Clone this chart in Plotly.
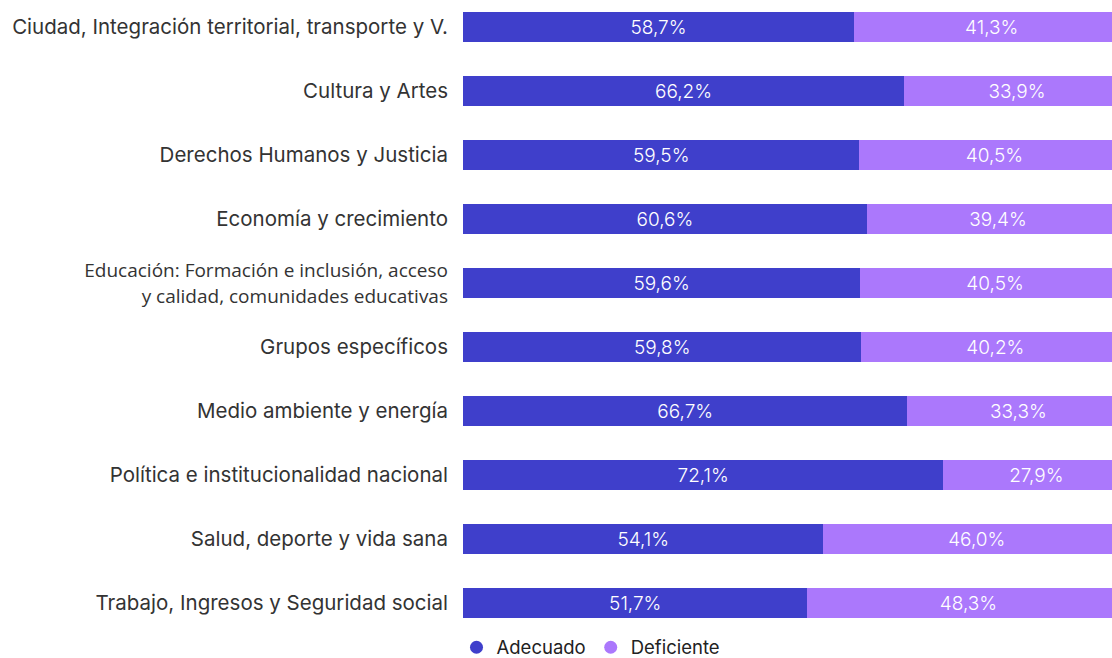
import plotly.graph_objects as go

categories = [
    "Ciudad, Integración territorial, transporte y V.",
    "Cultura y Artes",
    "Derechos Humanos y Justicia",
    "Economía y crecimiento",
    "Educación: Formación e inclusión, acceso<br>y calidad, comunidades educativas",
    "Grupos específicos",
    "Medio ambiente y energía",
    "Política e institucionalidad nacional",
    "Salud, deporte y vida sana",
    "Trabajo, Ingresos y Seguridad social",
]
adecuado = [58.7, 66.2, 59.5, 60.6, 59.6, 59.8, 66.7, 72.1, 54.1, 51.7]
deficiente = [41.3, 33.9, 40.5, 39.4, 40.5, 40.2, 33.3, 27.9, 46.0, 48.3]

series_names = ["Adecuado", "Deficiente"]
colors = ["#3f3fcb", "#ab78fc"]

OS = "<span style=\"font-family:'Open Sans';font-size:19px\">"
tick_text = [
    c if not c.startswith("Educación") else
    OS + c.replace("<br>", "</span><br>" + OS) + "</span>"
    for c in categories
]

FONT = "Inter, 'DejaVu Sans', sans-serif"

fig = go.Figure()
for name, vals, col in zip(series_names, [adecuado, deficiente], colors):
    fig.add_trace(go.Bar(
        y=categories, x=vals, orientation="h", name=name,
        marker=dict(color=col, line=dict(width=0)),
        texttemplate="%{x:.1f}%", textposition="inside",
        insidetextanchor="middle",
        textfont=dict(color="white", size=19, family=FONT, weight=300),
        showlegend=False, hoverinfo="skip",
    ))
# legend entries with circular markers
for name, col in zip(series_names, colors):
    fig.add_trace(go.Scatter(
        x=[None], y=[None], mode="markers", name=name,
        marker=dict(color=col, size=13, symbol="circle"),
        showlegend=True,
    ))

fig.update_layout(
    width=1112, height=658,
    barmode="stack", bargap=0.531,
    separators=",.",
    paper_bgcolor="white", plot_bgcolor="white",
    margin=dict(l=463, r=0, t=0, b=28, autoexpand=False),
    font=dict(family=FONT, size=20, color="#333333"),
    legend=dict(
        orientation="h", traceorder="normal",
        x=-0.01, xanchor="left", y=0.002, yanchor="top",
        font=dict(size=18.5, color="#222222", family=FONT),
        itemwidth=30, tracegroupgap=0, bgcolor="rgba(0,0,0,0)",
    ),
    xaxis=dict(range=[0, 97.4], visible=False, fixedrange=True),
    yaxis=dict(
        type="category", categoryorder="array", categoryarray=categories,
        range=[9.4219, -0.4219], automargin=False,
        tickmode="array", tickvals=categories, ticktext=tick_text,
        showgrid=False, zeroline=False, showline=False, ticks="",
        ticklabelstandoff=14,
        tickfont=dict(size=20.5, color="#333333", family=FONT),
    ),
)

fig.write_html(
    "out.html",
    config={"displayModeBar": False, "staticPlot": True},
    post_script="document.body.style.margin='0';document.body.style.overflow='hidden';",
)
